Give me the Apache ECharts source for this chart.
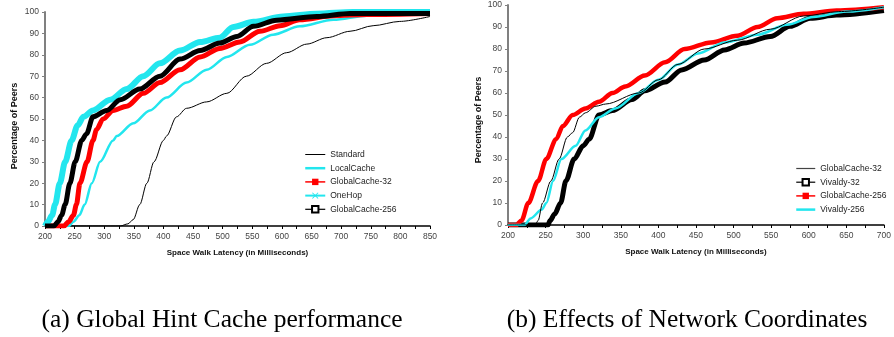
<!DOCTYPE html>
<html>
<head>
<meta charset="utf-8">
<script src="https://cdn.jsdelivr.net/npm/echarts@6/dist/echarts.min.js"></script>
<style>
  html, body { margin: 0; padding: 0; background: #fff; }
  #main { width: 894px; height: 337px; }
</style>
</head>
<body>
<div id="main"></div>
<script>
// ---- data: [latency ms, % of peers] ----
var xRangeA = [200, 850];
var xRangeB = [200, 700];
var captions = ['(a) Global Hint Cache performance', '(b) Effects of Network Coordinates'];

// (a) Global Hint Cache performance
var standard = [[200,0],[327,0],[340,1],[349,3],[360,10],[372,20],[384,30],[400,40],[405,42],[422,51],[439,55],[473,58],[507,62],[540,70],[574,76],[608,81],[642,85],[676,88],[715,91],[754,93.6],[799,95.6],[850,97.9]];
var localCache = [[200,0],[240,0],[248,2],[258,5],[267,10],[279,20],[293,30],[315,40],[321,42],[349,48],[377,54],[405,60],[439,67],[473,73],[507,79],[546,84.7],[585,89.4],[630,93.3],[687,96.4],[743,98.3],[800,99],[850,99.2]];
var globalCache32 = [[200,0],[232,0],[240,2],[248,5],[253,10],[259,20],[271,30],[281,40],[287,45],[298,50],[315,54],[338,56],[366,62],[394,67],[428,73],[462,79],[495,83],[529,86],[563,91],[597,93.6],[630,96.4],[687,98.3],[743,98.8],[850,99.3]];
var oneHop = [[200,0],[205,2],[212,5],[217,10],[225,20],[234,30],[245,40],[255,47],[265,51],[281,54],[310,59],[338,64],[366,70],[394,76],[428,82],[462,86],[495,88],[518,93],[552,95.4],[602,97.9],[659,99.2],[720,100],[850,100]];
var globalCache256 = [[200,0],[215,0],[222,2],[228,5],[234,10],[242,20],[251,30],[262,40],[270,43],[281,51],[304,54],[327,59],[360,64],[394,70],[428,78],[462,82],[495,85.5],[524,88.6],[552,93.3],[591,96.2],[659,97.9],[715,99.3],[850,99.3]];

// (b) Effects of Network Coordinates
var gc32b = [[200,0],[236,0],[240,2],[246,10],[257,20],[268,30],[279,40],[286,42],[295,49],[303,51],[317,54],[330,55],[374,60],[400,66],[426,73],[461,80],[505,84],[549,89],[593,95],[640,97],[700,99]];
var vivaldy32 = [[200,0],[253,0],[256,2],[262,5],[270,10],[277,20],[288,30],[300,36],[308,39],[321,50],[339,52],[365,57],[382,61],[409,65],[431,70.5],[461,75],[488,79.6],[514,82.7],[549,85.7],[575,90.3],[602,94],[637,95.4],[700,97.5]];
var gc256b = [[200,0],[211,0],[218,2],[227,10],[240,20],[251,30],[264,39],[273,45],[286,50],[303,53],[321,56],[339,60],[356,63],[382,68],[409,74],[435,80],[470,83],[505,86],[532,90],[558,94],[593,96],[637,97.5],[700,99]];
var vivaldy256 = [[200,0],[222,0],[230,3],[245,7],[251,10],[260,20],[271,30],[290,36],[303,43],[321,49],[343,53],[374,60],[400,66],[426,73],[453,78],[488,83],[532,86.5],[571,91],[606,94.6],[650,97],[700,99]];

var CYAN = '#22e6ee';
var RED = '#ff0000';
var sansFont = 'Liberation Sans, Arial, sans-serif';
// filled "x" marker
var crossPath = 'path://M0,1 L1,0 L5,4 L9,0 L10,1 L6,5 L10,9 L9,10 L5,6 L1,10 L0,9 L4,5 Z';
var ZW = '\u200b'; // keeps names of chart (b) apart from chart (a)

var myChart = echarts.init(document.getElementById('main'));

function xAxisOf(idx, range) {
    return {
        type: 'value', gridIndex: idx, min: range[0], max: range[1], interval: 25,
        name: 'Space Walk Latency (in Milliseconds)', nameLocation: 'middle', nameGap: 23,
        nameTextStyle: { fontFamily: sansFont, fontSize: 8, fontWeight: 'bold', color: '#111' },
        axisLine: { lineStyle: { color: '#000', width: 1.5 } },
        axisTick: { length: 3, lineStyle: { color: '#000' } },
        axisLabel: {
            fontFamily: sansFont, fontSize: 8.5, color: '#444', margin: 6,
            formatter: function (v) { return v % 50 === 0 ? String(v) : ''; }
        },
        splitLine: { show: false }
    };
}
function yAxisOf(idx, gap, shift) {
    return {
        type: 'value', gridIndex: idx, min: 0, max: 100, interval: 10,
        name: 'Percentage of Peers', nameLocation: 'middle', nameRotate: 90, nameGap: gap,
        nameTextStyle: { fontFamily: sansFont, fontSize: 9, fontWeight: 'bold', color: '#111', padding: [0, shift, 0, 0] },
        axisLine: { show: true, lineStyle: { color: '#808080', width: 2 } },
        axisTick: { show: true, length: 3, lineStyle: { color: '#808080' } },
        axisLabel: { fontFamily: sansFont, fontSize: 8.5, color: '#444', margin: 6 },
        splitLine: { show: false }
    };
}
function line(name, data, idx, color, width, symbol, z) {
    return {
        type: 'line', name: name, data: data, xAxisIndex: idx, yAxisIndex: idx,
        showSymbol: false, symbol: symbol || 'rect', symbolSize: 6,
        smooth: 0.3, smoothMonotone: 'x', z: z,
        lineStyle: { color: color, width: width },
        itemStyle: { color: color, borderColor: color },
        emphasis: { disabled: true }, animation: false
    };
}
// legend entry: thin line, marker hidden when the series has none
function entry(name, width, marker, color) {
    var e = { name: name, lineStyle: { width: width } };
    if (!marker) e.itemStyle = { opacity: 0 };
    if (color) e.lineStyle.color = color;
    return e;
}

var legendText = { fontFamily: sansFont, fontSize: 8.5, color: '#222' };
var captionStyle = { fontFamily: 'Liberation Serif, serif', fontSize: 25.5, fill: '#000', textAlign: 'center', textVerticalAlign: 'middle' };

var option = {
    backgroundColor: '#fff',
    graphic: [
        { type: 'text', x: 222, y: 320, style: Object.assign({ text: captions[0] }, captionStyle) },
        { type: 'text', x: 687, y: 320, style: Object.assign({ text: captions[1] }, captionStyle) }
    ],
    grid: [
        { left: 45, right: 464, top: 12, bottom: 111 },
        { left: 508, right: 6, top: 5, bottom: 112 }
    ],
    legend: [
        { orient: 'vertical', left: 299, top: 145, itemGap: 4.7, itemWidth: 20, itemHeight: 8,
          textStyle: legendText,
          data: [entry('Standard', 1, false), entry('LocalCache', 2.5, false), entry('GlobalCache-32', 1.5, true),
                 entry('OneHop', 2, true), entry('GlobalCache-256', 1.2, true)] },
        { orient: 'vertical', left: 790, top: 159, itemGap: 4.7, itemWidth: 19, itemHeight: 8,
          textStyle: legendText,
          data: [entry('GlobalCache-32' + ZW, 1.2, false, '#444'), entry('Vivaldy-32' + ZW, 1.2, true),
                 entry('GlobalCache-256' + ZW, 1.5, true), entry('Vivaldy-256' + ZW, 2.5, false)] }
    ],
    xAxis: [xAxisOf(0, xRangeA), xAxisOf(1, xRangeB)],
    yAxis: [yAxisOf(0, 26, 14), yAxisOf(1, 25, 10)],
    series: [
        line('Standard', standard, 0, '#000', 1, null, 2),
        line('LocalCache', localCache, 0, CYAN, 2.5, null, 3),
        line('GlobalCache-32', globalCache32, 0, RED, 5, 'rect', 4),
        line('OneHop', oneHop, 0, CYAN, 6, crossPath, 5),
        line('GlobalCache-256', globalCache256, 0, '#000', 5, 'emptyRect', 6),
        line('GlobalCache-32' + ZW, gc32b, 1, '#000', 1, null, 6),
        line('Vivaldy-32' + ZW, vivaldy32, 1, '#000', 5, 'emptyRect', 3),
        line('GlobalCache-256' + ZW, gc256b, 1, RED, 4.5, 'rect', 4),
        line('Vivaldy-256' + ZW, vivaldy256, 1, CYAN, 2.5, null, 5)
    ]
};

myChart.setOption(option);
</script>
</body>
</html>
